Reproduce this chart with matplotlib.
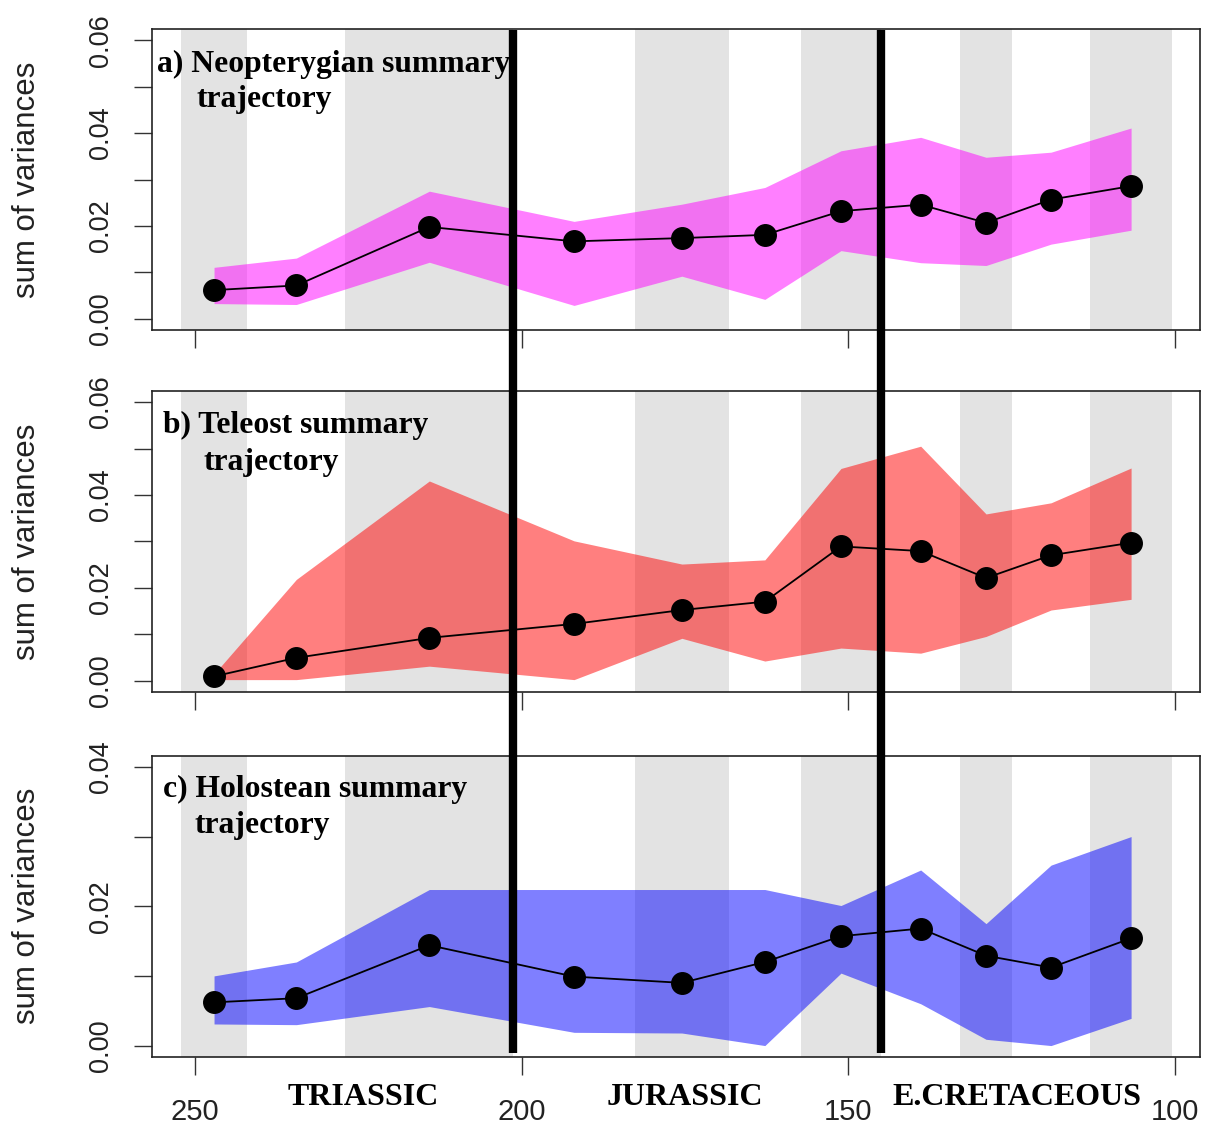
import matplotlib
matplotlib.use("Agg")
import matplotlib.pyplot as plt
from matplotlib import transforms
from matplotlib.lines import Line2D

# Stage-bin midpoints (Ma) and alternating shaded stage intervals
ages = [247.1, 234.5, 214.15, 192.0, 175.5, 162.8, 151.15, 138.95, 128.95, 119.0, 106.75]
band_old = [252.2, 227.0, 182.7, 157.3, 132.9, 113.0]
band_young = [242.0, 201.3, 168.3, 145.0, 125.0, 100.5]
period_bounds = [201.3, 145.0]
period_names = ["TRIASSIC", "JURASSIC", "E.CRETACEOUS"]
period_label_x = [224.3, 175.0, 124.2]

# Summary trajectories: mean sum of variances with lower/upper limits
neo_mean = [0.0062, 0.0072, 0.0198, 0.0167, 0.0174, 0.0181, 0.0232, 0.0246, 0.0207, 0.0257, 0.0286]
neo_lo = [0.0033, 0.0031, 0.0122, 0.0029, 0.0092, 0.0042, 0.0147, 0.0121, 0.0115, 0.0161, 0.0191]
neo_hi = [0.0111, 0.0131, 0.0275, 0.0210, 0.0247, 0.0283, 0.0362, 0.0391, 0.0348, 0.0359, 0.0411]

tel_mean = [0.0009, 0.0049, 0.0092, 0.0122, 0.0152, 0.0170, 0.0289, 0.0279, 0.0221, 0.0270, 0.0297]
tel_lo = [0.0002, 0.0002, 0.0031, 0.0002, 0.0091, 0.0042, 0.0070, 0.0059, 0.0095, 0.0152, 0.0175]
tel_hi = [0.0014, 0.0218, 0.0430, 0.0301, 0.0251, 0.0260, 0.0457, 0.0505, 0.0359, 0.0383, 0.0458]

hol_mean = [0.0062, 0.0068, 0.0144, 0.0099, 0.0090, 0.0120, 0.0157, 0.0168, 0.0129, 0.0112, 0.0154]
hol_lo = [0.0031, 0.0030, 0.0056, 0.0019, 0.0018, 0.0000, 0.0104, 0.0060, 0.0009, 0.0000, 0.0039]
hol_hi = [0.0100, 0.0120, 0.0224, 0.0224, 0.0224, 0.0224, 0.0201, 0.0252, 0.0175, 0.0259, 0.0300]

x_ticks = [250, 200, 150, 100]

panels = [
    dict(mean=neo_mean, lo=neo_lo, hi=neo_hi, color="magenta", ymax=0.06,
         title=("a) Neopterygian summary", "trajectory"),
         pos=(0.7074, 0.2668), t1=(0.0048, 0.858), t2=(0.0427, 0.740)),
    dict(mean=tel_mean, lo=tel_lo, hi=tel_hi, color="red", ymax=0.06,
         title=("b) Teleost summary", "trajectory"),
         pos=(0.3868, 0.2666), t1=(0.0108, 0.859), t2=(0.049, 0.737)),
    dict(mean=hol_mean, lo=hol_lo, hi=hol_hi, color="blue", ymax=0.04,
         title=("c) Holostean summary", "trajectory"),
         pos=(0.0632, 0.2668), t1=(0.0103, 0.864), t2=(0.041, 0.744)),
]

sans = ["Liberation Sans", "DejaVu Sans"]
serif = ["Liberation Serif", "DejaVu Serif"]

fig = plt.figure(figsize=(12.08, 11.28), dpi=100)
axes = []
for i, p in enumerate(panels):
    ax = fig.add_axes([0.1258, p["pos"][0], 0.8676, p["pos"][1]])
    axes.append(ax)
    for a0, a1 in zip(band_old, band_young):
        ax.axvspan(a0, a1, color="#e3e3e3", lw=0, zorder=0)
    ax.fill_between(ages, p["lo"], p["hi"], color=p["color"], alpha=0.5, lw=0, zorder=1)
    ax.plot(ages, p["mean"], color="black", lw=1.3, zorder=2)
    ax.plot(ages, p["mean"], "o", color="black", ms=15.5, zorder=3)

    ymax = p["ymax"]
    pad = ymax * 0.04
    ax.set_ylim(-pad, ymax + pad)
    ax.set_xlim(256.6, 96.2)

    yt = [k * 0.01 for k in range(int(round(ymax / 0.01)) + 1)]
    ylabels = ["%.2f" % v if k % 2 == 0 else "" for k, v in enumerate(yt)]
    ax.set_yticks(yt, labels=ylabels)
    ax.set_xticks(x_ticks)
    if i < 2:
        ax.set_xticklabels([])
    else:
        ax.set_xticklabels([str(v) for v in x_ticks])

    ax.tick_params(axis="both", direction="out", length=13, width=1.0, color="#333333")
    ax.tick_params(axis="y", labelrotation=90, pad=14, labelsize=19.5)
    ax.tick_params(axis="x", pad=17, labelsize=21)
    for lab in ax.get_yticklabels():
        lab.set_family(sans)
        lab.set_va("center")
        lab.set_color("#222222")
    for lab in ax.get_xticklabels():
        lab.set_family(sans)
        lab.set_color("#222222")

    for s in ax.spines.values():
        s.set_linewidth(1.2)
        s.set_color("#222222")

    ax.set_ylabel("sum of variances", family=sans, fontsize=22.5, color="#222222",
                  va="center")
    ax.yaxis.set_label_coords(-0.1188, 0.5)

    ax.text(p["t1"][0], p["t1"][1], p["title"][0], transform=ax.transAxes,
            family=serif, weight="bold", fontsize=22.8, va="baseline", ha="left", zorder=4)
    ax.text(p["t2"][0], p["t2"][1], p["title"][1], transform=ax.transAxes,
            family=serif, weight="bold", fontsize=22.8, va="baseline", ha="left", zorder=4)

# Period boundaries spanning all three panels
blend = transforms.blended_transform_factory(axes[-1].transData, fig.transFigure)
for xb in period_bounds:
    fig.add_artist(Line2D([xb, xb], [0.0665, 0.9734], transform=blend,
                          color="black", lw=6, solid_capstyle="butt", zorder=10))

for name, xp in zip(period_names, period_label_x):
    fig.text(xp, 0.0204, name, transform=blend, family=serif, weight="bold",
             fontsize=23, ha="center", va="baseline")

fig.savefig("out.png", dpi=100)
